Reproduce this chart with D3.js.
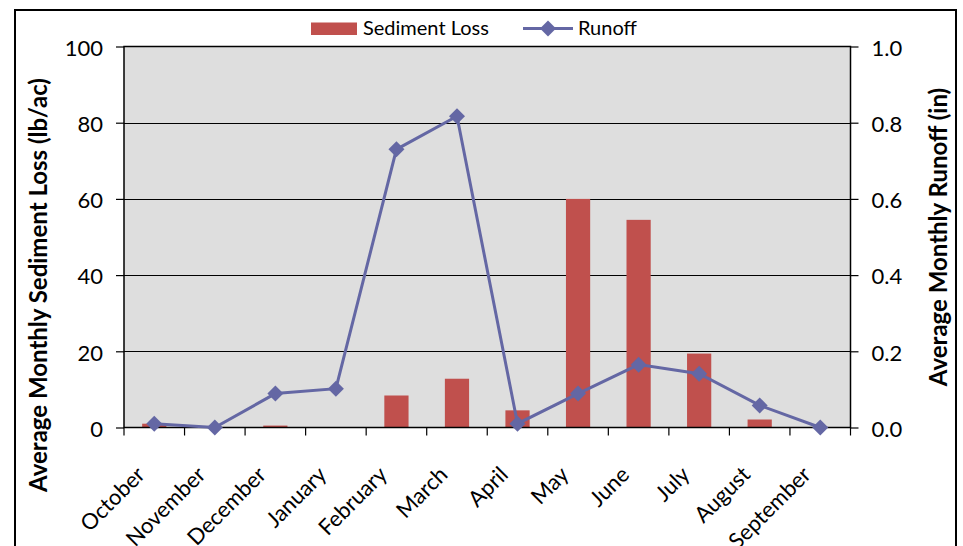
<!DOCTYPE html>
<html>
<head>
<meta charset="utf-8">
<script src="https://cdn.jsdelivr.net/npm/d3@7"></script>
<style>
  html, body { margin: 0; padding: 0; background: #fff; }
  svg { display: block; font-family: Lato, "Open Sans", sans-serif; }
</style>
</head>
<body>
<div id="chart"></div>
<script>
// Datos
const months = ['October', 'November', 'December', 'January', 'February', 'March',
  'April', 'May', 'June', 'July', 'August', 'September'];
const sedimentLoss = [1.0, 0, 0.5, 0, 8.4, 12.8, 4.5, 60, 54.5, 19.4, 2.1, 0];
const runoff = [0.01, 0.0, 0.089, 0.102, 0.73, 0.817, 0.01, 0.089, 0.165, 0.141, 0.058, 0.0];
const leftTicks = [0, 20, 40, 60, 80, 100];
const rightTicks = [0, 0.2, 0.4, 0.6, 0.8, 1.0];

const W = 963, H = 546;
const plot = { left: 124, right: 850.5, top: 46.5, bottom: 427.5 };
const barColor = '#c0504d';
const lineColor = '#6467a4';

const svg = d3.select('#chart').append('svg')
  .attr('width', W).attr('height', H);

// Borde exterior del gráfico
svg.append('rect')
  .attr('x', 15).attr('y', 10)
  .attr('width', 941).attr('height', 600)
  .attr('fill', '#fff').attr('stroke', '#000').attr('stroke-width', 2);

// Escalas
const x = d3.scaleBand().domain(months).range([plot.left, plot.right]);
const yL = d3.scaleLinear().domain([0, 100]).range([plot.bottom, plot.top]);
const yR = d3.scaleLinear().domain([0, 1]).range([plot.bottom, plot.top]);

// Fondo del área de trazado
svg.append('rect')
  .attr('x', plot.left).attr('y', plot.top)
  .attr('width', plot.right - plot.left).attr('height', plot.bottom - plot.top)
  .attr('fill', '#dedede');

// Líneas de cuadrícula
svg.append('g')
  .selectAll('line')
  .data(leftTicks.slice(1, -1))
  .join('line')
  .attr('x1', plot.left).attr('x2', plot.right)
  .attr('y1', (d) => Math.round(yL(d)) + 0.5).attr('y2', (d) => Math.round(yL(d)) + 0.5)
  .attr('stroke', '#000').attr('stroke-width', 1);

// Barras
const bw = x.bandwidth() * 0.4;
svg.append('g')
  .selectAll('rect')
  .data(months)
  .join('rect')
  .attr('x', (d) => x(d) + x.bandwidth() / 2 - bw / 2)
  .attr('width', bw)
  .attr('y', (d, i) => yL(sedimentLoss[i]))
  .attr('height', (d, i) => plot.bottom - yL(sedimentLoss[i]))
  .attr('fill', barColor);

// Borde del área de trazado
svg.append('rect')
  .attr('x', plot.left).attr('y', plot.top)
  .attr('width', plot.right - plot.left).attr('height', plot.bottom - plot.top)
  .attr('fill', 'none').attr('stroke', '#000').attr('stroke-width', 1.5);

// Ejes
const axisL = svg.append('g')
  .attr('transform', `translate(${plot.left},0)`)
  .call(d3.axisLeft(yL).tickValues(leftTicks).tickSize(8).tickPadding(13));
const axisR = svg.append('g')
  .attr('transform', `translate(${plot.right},0)`)
  .call(d3.axisRight(yR).tickValues(rightTicks).tickSize(8).tickPadding(13)
    .tickFormat(d3.format('.1f')));
[axisL, axisR].forEach((a) => {
  a.select('.domain').remove();
  a.selectAll('line').attr('stroke', '#000').attr('stroke-width', 1.2);
  a.selectAll('text').attr('font-size', 22).attr('fill', '#000')
    .attr('font-family', 'Lato, sans-serif').attr('dy', '0.4em');
});

// Marcas del eje X en los límites de categoría
svg.append('g')
  .selectAll('line')
  .data(d3.range(months.length + 1))
  .join('line')
  .attr('x1', (i) => plot.left + i * x.step()).attr('x2', (i) => plot.left + i * x.step())
  .attr('y1', plot.bottom).attr('y2', plot.bottom + 8)
  .attr('stroke', '#000').attr('stroke-width', 1.2);

// Etiquetas de meses
svg.append('g')
  .selectAll('text')
  .data(months)
  .join('text')
  .attr('transform', (d) => `translate(${x(d) + x.bandwidth() / 2 - 8},${476}) rotate(-45)`)
  .attr('text-anchor', 'end')
  .attr('font-size', 22)
  .text((d) => d);

// Línea de escorrentía
const line = d3.line()
  .x((d, i) => x(months[i]) + x.bandwidth() / 2)
  .y((d) => yR(d));
svg.append('path')
  .datum(runoff)
  .attr('fill', 'none')
  .attr('stroke', lineColor)
  .attr('stroke-width', 3)
  .attr('d', line);

const diamond = 'M0,-8L8,0L0,8L-8,0Z';
svg.append('g')
  .selectAll('path')
  .data(runoff)
  .join('path')
  .attr('transform', (d, i) => `translate(${x(months[i]) + x.bandwidth() / 2},${yR(d)})`)
  .attr('d', diamond)
  .attr('fill', lineColor);

// Títulos de ejes
svg.append('text')
  .attr('transform', `translate(47,285) rotate(-90)`)
  .attr('text-anchor', 'middle')
  .attr('font-size', 24).attr('font-weight', 'bold')
  .text('Average Monthly Sediment Loss (lb/ac)');
svg.append('text')
  .attr('transform', `translate(947,237) rotate(-90)`)
  .attr('text-anchor', 'middle')
  .attr('font-size', 24).attr('font-weight', 'bold')
  .text('Average Monthly Runoff (in)');

// Leyenda
const legend = svg.append('g');
legend.append('rect')
  .attr('x', 311).attr('y', 22.5).attr('width', 46).attr('height', 12.5)
  .attr('fill', barColor);
legend.append('text')
  .attr('x', 363).attr('y', 35).attr('font-size', 20)
  .text('Sediment Loss');
legend.append('line')
  .attr('x1', 523).attr('x2', 573).attr('y1', 28.5).attr('y2', 28.5)
  .attr('stroke', lineColor).attr('stroke-width', 3);
legend.append('path')
  .attr('transform', 'translate(548,28.5)')
  .attr('d', diamond)
  .attr('fill', lineColor);
legend.append('text')
  .attr('x', 578).attr('y', 35).attr('font-size', 20)
  .text('Runoff');
</script>
</body>
</html>
